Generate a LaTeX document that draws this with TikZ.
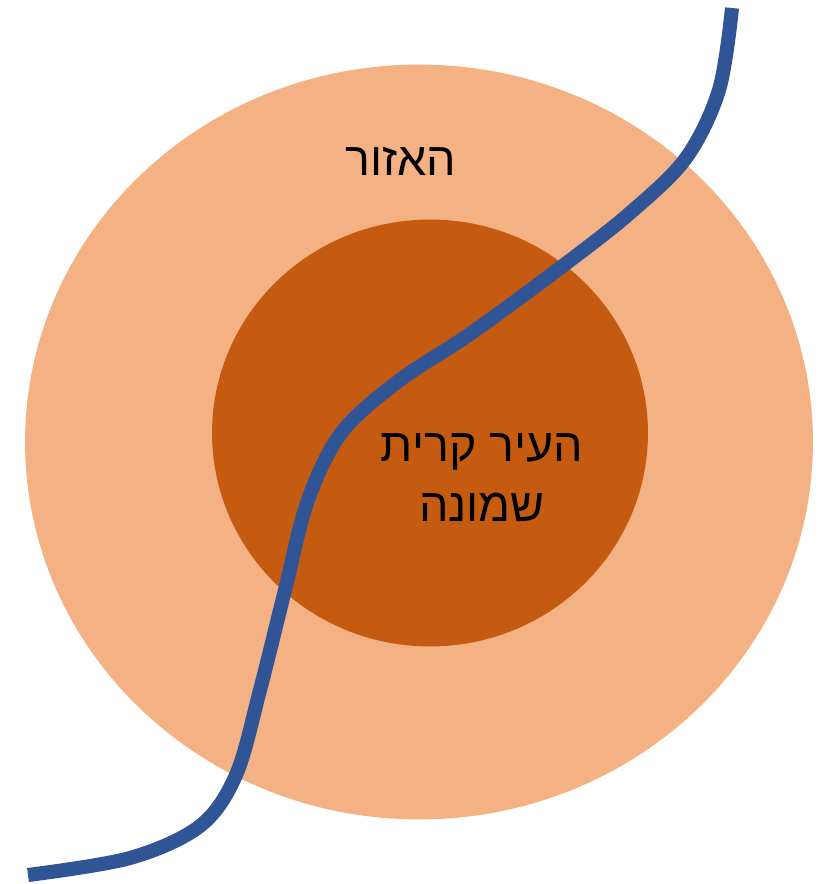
\documentclass[tikz,border=0pt]{standalone}
\usepackage{fontspec}
\setmainfont{Liberation Sans}
\newfontfamily\hebfont[Script=Hebrew]{Liberation Sans}
\TeXXeTstate=1
\usepackage{tikz}
\usetikzlibrary{shapes.geometric}
\definecolor{regionFill}{HTML}{F4B183}
\definecolor{cityFill}{HTML}{C55A11}
\definecolor{riverBlue}{HTML}{2F5597}

\begin{document}
\begin{tikzpicture}[
    x=0.02cm,y=-0.02cm,
    zone/.style={ellipse,inner sep=0pt,outer sep=0pt,draw=none},
    label/.style={font=\hebfont\fontsize{26.5}{34}\selectfont,align=center,text=black},
    river/.style={draw=riverBlue,line width=8pt,line cap=butt}
  ]
  \useasboundingbox (0,0) rectangle (823,884);

  % Region and city
  \node[zone,fill=regionFill,minimum width=15.76cm,minimum height=15.1cm] (region) at (419,442) {};
  \node[zone,fill=cityFill,minimum width=8.72cm,minimum height=8.54cm] (city) at (430,433) {};

  % Labels
  \node[label] (regionlbl) at (401,161) {\beginR האזור\endR};
  \node[label] (citylbl) at (482,478) {\beginR העיר קרית\endR\\\beginR שמונה\endR};

  % River
  \draw[river] plot[smooth,tension=0.55] coordinates {
    (732,8) (719,90) (686,158) (630,213) (560,268) (470,334)
    (400,380) (342,432) (308,500) (285,590) (260,690) (236,775)
    (200,826) (130,858) (28,875)};
\end{tikzpicture}
\end{document}
